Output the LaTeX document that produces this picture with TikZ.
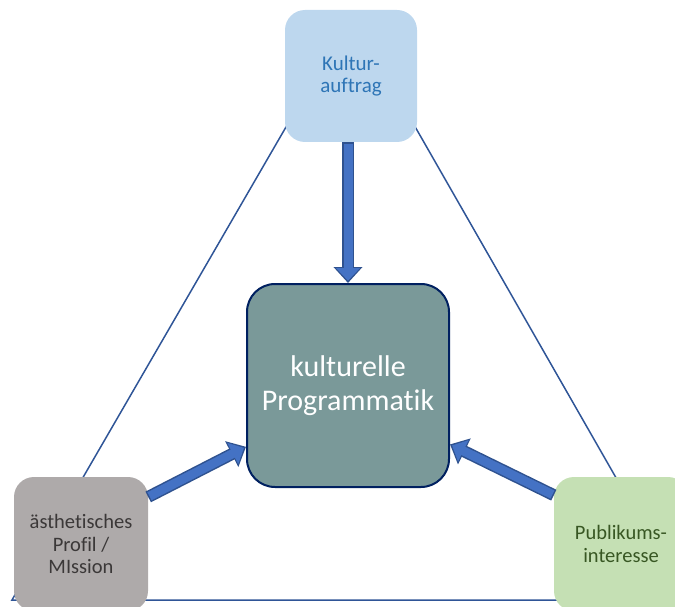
\documentclass[tikz,border=0pt]{standalone}
\usepackage{fontspec}
\setmainfont[Ligatures=NoCommon]{Carlito}
\usepackage{tikz}
\usetikzlibrary{positioning,arrows.meta,backgrounds}
\definecolor{kulturfill}{HTML}{BDD7EE}
\definecolor{kulturtext}{HTML}{2E75B6}
\definecolor{progfill}{HTML}{7A9999}
\definecolor{progrand}{HTML}{002060}
\definecolor{profilfill}{HTML}{AEAAAA}
\definecolor{profiltext}{HTML}{3B3838}
\definecolor{publfill}{HTML}{C5E0B4}
\definecolor{publtext}{HTML}{385723}
\definecolor{linie}{HTML}{2F5597}
\definecolor{pfeilfill}{HTML}{4472C4}
\definecolor{pfeilrand}{HTML}{2F528F}

\begin{document}
\begin{tikzpicture}[x=1pt,y=-1pt]
\tikzset{basic/.style={rounded corners=20pt, minimum width=134pt, minimum height=134pt, align=center, inner sep=2pt,
  font=\fontsize{20.5}{22.5}\selectfont}}
\tikzset{programm/.style={basic,draw=progrand,line width=2pt,fill=progfill,text=white,rounded corners=28pt,
  minimum width=202pt, minimum height=203pt, font=\fontsize{30}{34}\selectfont}}
\tikzset{dreieck/.style={draw=linie,line width=1.5pt}}
\tikzset{pfeilaussen/.style={draw=pfeilrand,line width=12pt,-{Triangle[length=16pt,width=28pt]}}}
\tikzset{pfeilinnen/.style={draw=pfeilfill,line width=9pt,-{Triangle[length=12.5pt,width=23pt]},shorten >=2.3pt,shorten <=1.5pt}}
	\clip (0,0) rectangle (675,607);
	\node[basic,fill=kulturfill,text=kulturtext,minimum width=132pt,minimum height=132pt,
	  font=\fontsize{21}{22}\selectfont] (kultur) at (351,76) {Kultur-\\auftrag};
	\node[programm] (prog) at (348,385.5) {kulturelle\\Programmatik};
	\node[basic,fill=profilfill,text=profiltext] (profil) at (81,544) {ästhetisches\\Profil /\\MIssion};
	\node[basic,fill=publfill,text=publtext] (publikum) at (621,544) {Publikums-\\interesse};
	\coordinate (links) at (12,600);
	\coordinate (rechts) at (686,600);
	\coordinate (kulturfuss) at (prog.north |- kultur.south);
	\begin{scope}[on background layer]
		\path[dreieck] ([yshift=-5pt]kultur.north) -- (links) -- (rechts) -- cycle;
	\end{scope}
	\path[pfeilaussen] (kulturfuss) -- (prog.north);
	\path[pfeilinnen] (kulturfuss) -- (prog.north);
	\path[pfeilaussen] (profil.35) -- (prog.211);
	\path[pfeilinnen] (profil.35) -- (prog.211);
	\path[pfeilaussen] (publikum.144) -- (prog.330);
	\path[pfeilinnen] (publikum.144) -- (prog.330);
\end{tikzpicture}
\end{document}
